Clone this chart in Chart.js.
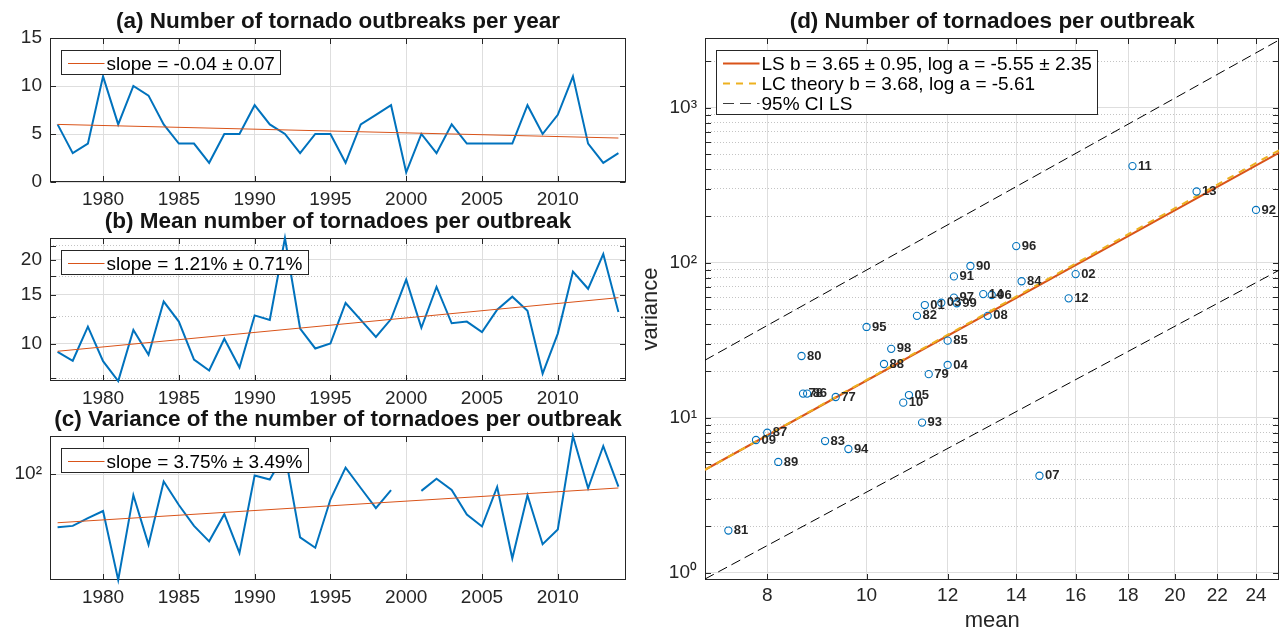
<!DOCTYPE html>
<html>
<head>
<meta charset="utf-8">
<title>Tornado outbreak statistics 1977-2014</title>
<script src="https://cdn.jsdelivr.net/npm/chart.js@4.4.1/dist/chart.umd.min.js"></script>
<style>
  html, body { margin: 0; padding: 0; background: #ffffff; }
  #figure { position: relative; width: 1284px; height: 632px; overflow: hidden; background: #ffffff; }
  #figure canvas { position: absolute; }
</style>
</head>
<body>
<div id="figure">
  <canvas id="panelA" width="640" height="215" style="left:0px;top:0px;width:640px;height:215px"></canvas>
  <canvas id="panelB" width="640" height="215" style="left:0px;top:200px;width:640px;height:215px"></canvas>
  <canvas id="panelC" width="640" height="232" style="left:0px;top:400px;width:640px;height:232px"></canvas>
  <canvas id="panelD" width="644" height="632" style="left:640px;top:0px;width:644px;height:632px"></canvas>
</div>
<script>
// ---- data -------------------------------------------------------------
const years = [1977, 1978, 1979, 1980, 1981, 1982, 1983, 1984, 1985, 1986,
               1987, 1988, 1989, 1990, 1991, 1992, 1993, 1994, 1995, 1996,
               1997, 1998, 1999, 2000, 2001, 2002, 2003, 2004, 2005, 2006,
               2007, 2008, 2009, 2010, 2011, 2012, 2013, 2014];
const outbreaksPerYear = [6, 3, 4, 11, 6, 10, 9, 6, 4, 4,
                          2, 5, 5, 8, 6, 5, 3, 5, 5, 2,
                          6, 7, 8, 1, 5, 3, 6, 4, 4, 4,
                          4, 8, 5, 7, 11, 4, 2, 3];
const meanPerOutbreak = [9.33, 8.67, 11.5, 8.64, 7.33, 11.2, 9.11, 14.17, 12.0, 8.75,
                         8.0, 10.4, 8.2, 12.63, 12.17, 24.0, 11.33, 9.6, 10.0, 14.0,
                         12.17, 10.57, 12.25, 17.0, 11.4, 16.0, 11.83, 12.0, 11.0, 13.25,
                         14.75, 13.13, 7.8, 10.86, 18.18, 15.75, 21.0, 13.0];
const variancePerOutbreak = [13.6, 14.3, 19.1, 25.0, 1.87, 45.4, 7.07, 75.9, 31.4, 14.3,
                             8.0, 22.2, 5.18, 95.2, 81.6, 219, 9.3, 6.28, 38.5, 128,
                             59.5, 27.8, 54.7, null, 53.3, 84.4, 55.2, 21.9, 14.0, 61.9,
                             4.22, 45.4, 7.18, 12.5, 420, 58.9, 288, 62.7];

// fitted trend lines, value at first and last year
const trendOutbreaks = [6.0, 4.58];
const trendMean = [9.38, 14.63];
const trendVariance = [16.1, 59.5];
const slopeLabels = ['slope = -0.04 \u00b1 0.07',
                     'slope = 1.21% \u00b1 0.71%',
                     'slope = 3.75% \u00b1 3.49%'];

// power-law fits: variance = exp(logA) * mean^b
const lsFit = [3.65, -5.55];
const lcFit = [3.68, -5.61];
const fitLabels = ['LS b = 3.65 \u00b1 0.95, log a = -5.55 \u00b1 2.35',
                   'LC theory b = 3.68, log a = -5.61',
                   '95% CI LS'];
const ciMeans = [6.955, 25.29];
const ciUpper = [23.5, 2740];
const ciLower = [0.91, 89.6];

// tick values
const yearTicks = [1980, 1985, 1990, 1995, 2000, 2005, 2010];
const countTicks = [0, 5, 10, 15];
const meanTicks = [10, 15, 20];
const meanMinorTicks = [7.5, 12.5, 17.5, 22.5];
const varianceTicks = [100];
const meanAxisTicks = [8, 10, 12, 14, 16, 18, 20, 22, 24];
const powerTicks = [1, 10, 100, 1000];
const powerMinorTicks = [2, 3, 4, 5, 6, 7, 8, 9, 20, 30, 40, 50, 60, 70, 80, 90,
                         200, 300, 400, 500, 600, 700, 800, 900, 2000];

// ---- styling ----------------------------------------------------------
const FONT = "'Liberation Sans', Arial, Helvetica, sans-serif";
const INK = '#262626';
const BLUE = '#0072BD', RED = '#D95319', GOLD = '#EDB120';
const GRID_MAJOR = '#dedede', GRID_MINOR = '#c4c4c4';
const SUP = { 0: '\u2070', 1: '\u00b9', 2: '\u00b2', 3: '\u00b3' };
const powerLabel = v => '10' + SUP[Math.round(Math.log10(v))];

Chart.defaults.font.family = FONT;
Chart.defaults.color = INK;

function fixedTicks(major, minor) {
  return scale => {
    const list = major.map(v => ({ value: v, minor: false }))
      .concat((minor || []).map(v => ({ value: v, minor: true })));
    list.sort((p, q) => p.value - q.value);
    scale.ticks = list;
  };
}

function axisOptions(o) {
  return {
    type: o.type, min: o.min, max: o.max, position: o.position,
    afterBuildTicks: fixedTicks(o.major, o.minor),
    afterFit: s => { if (s.isHorizontal()) s.height = o.size; else s.width = o.size; },
    grid: {
      drawTicks: false, lineWidth: 1,
      color: c => (c.tick && c.tick.minor) ? GRID_MINOR : GRID_MAJOR
    },
    border: { display: false, dash: c => (c.tick && c.tick.minor) ? [1, 2] : [] },
    ticks: {
      autoSkip: false, maxRotation: 0, minRotation: 0, padding: o.padding,
      color: INK, font: { family: FONT, size: 19 }, callback: o.label
    },
    title: o.title || { display: false }
  };
}

// axes box with inward tick marks on all four sides
const axisFrame = {
  id: 'axisFrame',
  beforeDatasetsDraw(chart) {
    const { ctx, chartArea: a, scales } = chart;
    const L = 5.5;
    const l = Math.round(a.left) + 0.5, r = Math.round(a.right) - 0.5;
    const t = Math.round(a.top) + 0.5, b = Math.round(a.bottom) - 0.5;
    ctx.save();
    ctx.strokeStyle = INK; ctx.lineWidth = 1; ctx.setLineDash([]);
    ctx.beginPath();
    scales.x.ticks.forEach(tk => {
      const px = Math.round(scales.x.getPixelForValue(tk.value)) + 0.5;
      ctx.moveTo(px, b); ctx.lineTo(px, b - L);
      ctx.moveTo(px, t); ctx.lineTo(px, t + L);
    });
    scales.y.ticks.forEach(tk => {
      const py = Math.round(scales.y.getPixelForValue(tk.value)) + 0.5;
      ctx.moveTo(l, py); ctx.lineTo(l + L, py);
      ctx.moveTo(r, py); ctx.lineTo(r - L, py);
    });
    ctx.stroke();
    ctx.strokeRect(l, t, r - l, b - t);
    ctx.restore();
  }
};

// bold panel heading above the axes
const panelTitle = {
  id: 'panelTitle',
  afterDraw(chart, args, opts) {
    if (!opts.text) return;
    const { ctx, chartArea: a } = chart;
    ctx.save();
    ctx.font = `bold 22.5px ${FONT}`;
    ctx.fillStyle = '#141414';
    ctx.textAlign = 'center'; ctx.textBaseline = 'alphabetic';
    ctx.fillText(opts.text, (a.left + a.right) / 2, a.top - 10);
    ctx.restore();
  }
};

// boxed legend in the upper-left corner of the axes
const boxLegend = {
  id: 'boxLegend',
  afterDraw(chart, args, opts) {
    const idx = opts.datasets || [];
    if (!idx.length) return;
    const { ctx, chartArea: a } = chart;
    const rowH = 20, sampleL = 6.5, sampleR = 43, textX = 45, padR = 6;
    const items = idx.map(i => chart.data.datasets[i]);
    ctx.save();
    ctx.font = `19px ${FONT}`;
    const textW = Math.max(...items.map(d => ctx.measureText(d.label).width));
    const left = Math.round(a.left + 11) + 0.5, top = Math.round(a.top + 12) + 0.5;
    const w = Math.round(textX + textW + padR), h = items.length * rowH + 4;
    ctx.fillStyle = '#ffffff'; ctx.fillRect(left, top, w, h);
    ctx.strokeStyle = INK; ctx.lineWidth = 1; ctx.strokeRect(left, top, w, h);
    items.forEach((d, k) => {
      const cy = top + 3 + rowH / 2 + k * rowH;
      ctx.beginPath();
      ctx.setLineDash(d.legendDash || d.borderDash || []);
      ctx.strokeStyle = d.legendColor || d.borderColor; ctx.lineWidth = d.borderWidth;
      ctx.moveTo(left + sampleL, cy); ctx.lineTo(left + sampleR, cy);
      ctx.stroke();
      ctx.setLineDash([]);
      ctx.fillStyle = '#000000'; ctx.textBaseline = 'middle'; ctx.textAlign = 'left';
      ctx.fillText(d.label, left + textX, cy + 1);
    });
    ctx.restore();
  }
};

// two-digit year written next to each scatter point
const yearTags = {
  id: 'yearTags',
  afterDatasetsDraw(chart) {
    const ds = chart.data.datasets[0];
    const meta = chart.getDatasetMeta(0);
    const ctx = chart.ctx;
    ctx.save();
    ctx.font = `bold 13px ${FONT}`;
    ctx.fillStyle = INK; ctx.textAlign = 'left'; ctx.textBaseline = 'middle';
    meta.data.forEach((pt, i) => {
      const raw = ds.data[i];
      if (raw && raw.tag) ctx.fillText(raw.tag, pt.x + 5.5, pt.y);
    });
    ctx.restore();
  }
};

const basePlugins = { legend: { display: false }, tooltip: { enabled: false }, title: { display: false } };

// ---- panels (a)-(c): yearly time series ---------------------------------
function timePanel(id, p) {
  const first = years[0], last = years[years.length - 1];
  return new Chart(document.getElementById(id), {
    type: 'line',
    data: {
      datasets: [
        {
          label: p.slopeText,
          data: [{ x: first, y: p.trend[0] }, { x: last, y: p.trend[1] }],
          borderColor: RED, borderWidth: 1, pointRadius: 0, clip: false, order: 1
        },
        {
          label: p.name,
          data: years.map((yr, i) => ({ x: yr, y: p.values[i] })),
          borderColor: BLUE, borderWidth: 2, pointRadius: 0, tension: 0,
          spanGaps: false, clip: false, order: 2
        }
      ]
    },
    options: {
      responsive: false, animation: false, devicePixelRatio: 1, events: [],
      layout: { padding: { left: 0, right: 14, top: p.top, bottom: 0 } },
      scales: {
        x: axisOptions({
          type: 'linear', min: 1976.5, max: 2014.5, position: 'bottom',
          major: yearTicks, size: p.xSize, padding: 6, label: v => String(v)
        }),
        y: axisOptions({
          type: p.yType, min: p.yMin, max: p.yMax, position: 'left',
          major: p.yMajor, minor: p.yMinor, size: 50, padding: 8, label: p.yLabel
        })
      },
      plugins: Object.assign({}, basePlugins, {
        panelTitle: { text: p.title },
        boxLegend: { datasets: [0] }
      })
    },
    plugins: [axisFrame, panelTitle, boxLegend]
  });
}

timePanel('panelA', {
  title: '(a) Number of tornado outbreaks per year',
  name: 'outbreaks', values: outbreaksPerYear, trend: trendOutbreaks, slopeText: slopeLabels[0],
  top: 38, xSize: 33, yType: 'linear', yMin: 0, yMax: 15,
  yMajor: countTicks, yLabel: v => String(v)
});

timePanel('panelB', {
  title: '(b) Mean number of tornadoes per outbreak',
  name: 'mean', values: meanPerOutbreak, trend: trendMean, slopeText: slopeLabels[1],
  top: 38, xSize: 34, yType: 'logarithmic', yMin: 7.33, yMax: 24.0,
  yMajor: meanTicks, yMinor: meanMinorTicks,
  yLabel: v => (meanTicks.includes(v) ? String(v) : '')
});

timePanel('panelC', {
  title: '(c) Variance of the number of tornadoes per outbreak',
  name: 'variance', values: variancePerOutbreak, trend: trendVariance, slopeText: slopeLabels[2],
  top: 36, xSize: 52, yType: 'logarithmic', yMin: 1.87, yMax: 420,
  yMajor: varianceTicks, yLabel: v => (varianceTicks.includes(v) ? powerLabel(v) : '')
});

// ---- panel (d): variance against mean, log-log --------------------------
const yearPoints = [];
years.forEach((yr, i) => {
  if (variancePerOutbreak[i] !== null) {
    yearPoints.push({ x: meanPerOutbreak[i], y: variancePerOutbreak[i], tag: String(yr).slice(2) });
  }
});
const powerLine = fit => ciMeans.map(m => ({ x: m, y: Math.exp(fit[1]) * Math.pow(m, fit[0]) }));

new Chart(document.getElementById('panelD'), {
  type: 'scatter',
  data: {
    datasets: [
      {
        label: 'years', data: yearPoints, showLine: false,
        pointRadius: 3.6, pointHoverRadius: 3.6, pointBorderWidth: 1.1,
        pointBorderColor: BLUE, pointBackgroundColor: 'rgba(0,0,0,0)', order: 0, clip: false
      },
      {
        label: fitLabels[1], data: powerLine(lcFit), showLine: true, pointRadius: 0,
        borderColor: GOLD, borderWidth: 2, borderDash: [7, 6], order: 1
      },
      {
        label: fitLabels[0], data: powerLine(lsFit), showLine: true, pointRadius: 0,
        borderColor: RED, borderWidth: 2, order: 2
      },
      {
        label: fitLabels[2], data: ciMeans.map((m, i) => ({ x: m, y: ciUpper[i] })),
        showLine: true, pointRadius: 0, borderColor: '#000000', borderWidth: 1,
        borderDash: [10, 5], legendColor: '#3c3c3c', legendDash: [11, 6], order: 3
      },
      {
        label: 'lower 95% CI', data: ciMeans.map((m, i) => ({ x: m, y: ciLower[i] })),
        showLine: true, pointRadius: 0, borderColor: '#000000', borderWidth: 1,
        borderDash: [10, 5], order: 3
      }
    ]
  },
  options: {
    responsive: false, animation: false, devicePixelRatio: 1, events: [],
    layout: { padding: { left: 0, right: 1, top: 38, bottom: 0 } },
    scales: {
      x: axisOptions({
        type: 'logarithmic', min: ciMeans[0], max: ciMeans[1], position: 'bottom',
        major: meanAxisTicks, size: 52, padding: 4.5, label: v => String(v),
        title: {
          display: true, text: 'mean', color: INK,
          font: { family: FONT, size: 22, lineHeight: 1 }, padding: { top: 0, bottom: 0 }
        }
      }),
      y: axisOptions({
        type: 'logarithmic', min: 0.897, max: 2817, position: 'left',
        major: powerTicks, minor: powerMinorTicks, size: 65, padding: 8,
        label: v => (powerTicks.includes(v) ? powerLabel(v) : ''),
        title: {
          display: true, text: 'variance', color: INK,
          font: { family: FONT, size: 22, lineHeight: 1 }, padding: { top: 0, bottom: 0 }
        }
      })
    },
    plugins: Object.assign({}, basePlugins, {
      panelTitle: { text: '(d) Number of tornadoes per outbreak' },
      boxLegend: { datasets: [2, 1, 3] }
    })
  },
  plugins: [axisFrame, yearTags, panelTitle, boxLegend]
});
</script>
</body>
</html>
